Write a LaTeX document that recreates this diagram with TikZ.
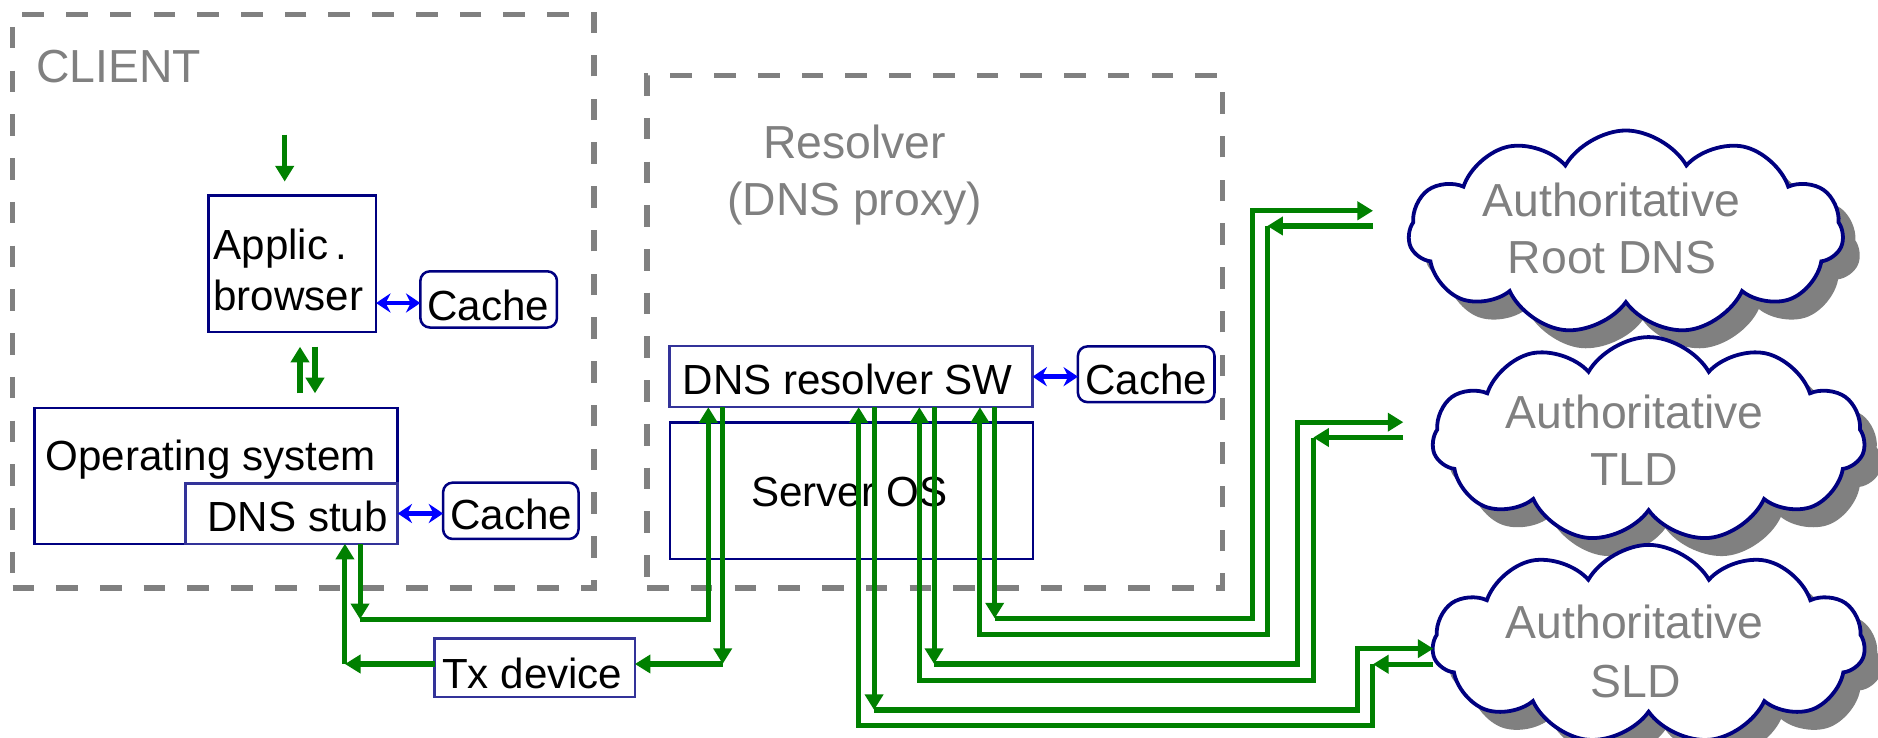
\documentclass[tikz,border=0pt]{standalone}
\usepackage{fontspec}
\setmainfont{Liberation Sans}
\usetikzlibrary{shapes.symbols,shadows,arrows.meta,calc}
\definecolor{navy}{RGB}{0,0,128}
\definecolor{slateb}{RGB}{51,51,153}
\definecolor{dgreen}{RGB}{0,128,0}
\definecolor{lgray}{RGB}{128,128,128}
\definecolor{pblue}{RGB}{0,0,255}
\begin{document}
\begin{tikzpicture}[x=0.01cm, y=-0.01cm,
  every node/.style={inner sep=0pt, outer sep=0pt},
  frame/.style={draw=lgray, line width=1.3pt, dash pattern=on 0.18cm off 0.185cm},
  nbox/.style={draw=navy, line width=0.6pt, fill=white},
  sbox/.style={draw=slateb, line width=0.6pt, fill=white},
  cbox/.style={draw=navy, line width=0.6pt, rounded corners=0.08cm, fill=white},
  btxt/.style={font=\fontsize{10}{12}\selectfont, text=black},
  gtxt/.style={font=\fontsize{11}{13}\selectfont, text=lgray},
  cloudshape/.style={cloud, cloud puffs=11, cloud puff arc=120, cloud ignores aspect,
    draw=navy, line width=0.9pt, fill=white,
    drop shadow={shadow xshift=0.14cm, shadow yshift=-0.15cm, fill=lgray, opacity=1}},
  garrow/.style={draw=dgreen, line width=1.2pt, -{Triangle[length=0.13cm,width=0.15cm]}},
  barrow/.style={draw=pblue, line width=1.1pt,
    {Stealth[length=0.12cm,width=0.16cm,inset=0.04cm]}-{Stealth[length=0.12cm,width=0.16cm,inset=0.04cm]}}
]
\path[use as bounding box, fill=white] (0,0) rectangle (1568,616);

% frames
\node[frame, minimum width=4.854cm, minimum height=4.788cm] (client) at (253.3,251.6) {};
\node[frame, minimum width=4.80cm, minimum height=4.28cm] (resolver) at (780.4,277) {};
\node[gtxt, anchor=base west] (clientlbl) at (30.4,68.6) {CLIENT};
\node[gtxt, anchor=base] (reslbl1) at (713.5,132) {Resolver};
\node[gtxt, anchor=base] (reslbl2) at (713.5,180) {(DNS proxy)};

% client boxes
\node[nbox, minimum width=1.40cm, minimum height=1.136cm] (app) at (244,220.2) {};
\node[btxt, anchor=base west] (apptxt1) at (178.3,217) {Applic\,.};
\node[btxt, anchor=base west] (apptxt2) at (178.3,259) {browser};
\node[cbox, minimum width=1.14cm, minimum height=0.469cm] (c1) at (408,250) {};
\node[btxt, anchor=base] (c1txt) at (407.5,267.4) {Cache};

\node[nbox, minimum width=3.03cm, minimum height=1.134cm] (os) at (180.5,397.3) {};
\node[btxt, anchor=base west] (ostxt) at (38,392.6) {Operating system};
\node[sbox, minimum width=1.77cm, minimum height=0.505cm] (stub) at (243.5,428.75) {};
\node[btxt, anchor=base west] (stubtxt) at (173.3,443.5) {DNS stub};
\node[cbox, minimum width=1.13cm, minimum height=0.47cm] (c2) at (426.5,426.5) {};
\node[btxt, anchor=base] (c2txt) at (426.7,442.5) {Cache};

% resolver boxes
\node[sbox, minimum width=3.03cm, minimum height=0.51cm] (sw) at (710.5,314.5) {};
\node[btxt, anchor=base west] (swtxt) at (570,329) {DNS resolver SW};
\node[nbox, minimum width=3.03cm, minimum height=1.138cm] (sos) at (711,409.9) {};
\node[btxt, anchor=base] (sostxt) at (709.3,423) {Server OS};
\node[cbox, minimum width=1.14cm, minimum height=0.465cm] (c3) at (957,312.5) {};
\node[btxt, anchor=base] (c3txt) at (957,329) {Cache};

% tx device
\node[sbox, minimum width=1.67cm, minimum height=0.49cm] (tx) at (446.5,557.5) {};
\node[btxt, anchor=base] (txtxt) at (444.4,574.6) {Tx device};

% clouds
\node[cloudshape, minimum width=3.63cm, minimum height=1.70cm] (root) at (1357.5,194) {};
\node[gtxt, anchor=base] (roottxt1) at (1345.3,180.8) {Authoritative};
\node[gtxt, anchor=base] (roottxt2) at (1346,228.5) {Root DNS};
\node[cloudshape, minimum width=3.61cm, minimum height=1.71cm] (tld) at (1376.5,367) {};
\node[gtxt, anchor=base] (tldtxt1) at (1364.8,357.6) {Authoritative};
\node[gtxt, anchor=base] (tldtxt2) at (1364.5,405.6) {TLD};
\node[cloudshape, minimum width=3.61cm, minimum height=1.66cm] (sld) at (1376.5,538) {};
\node[gtxt, anchor=base] (sldtxt1) at (1364.8,533) {Authoritative};
\node[gtxt, anchor=base] (sldtxt2) at (1365.5,582) {SLD};

% blue cache arrows
\draw[barrow] (app.east |- 0,253) -- (c1.west |- 0,253);
\draw[barrow] (stub.east) -- (stub.east -| c2.west);
\draw[barrow] (sw.east) -- (sw.east -| c3.west);

% client green arrows
\coordinate (userin) at (237.7,112.4);
\coordinate (userout) at (237.7,151.6);
\draw[garrow] (userin) -- (userout);
\coordinate (upa) at (250.5,328.4);
\coordinate (upb) at (250.5,289.5);
\draw[garrow] (upa) -- (upb);
\coordinate (dna) at (263,289.5);
\coordinate (dnb) at (263,328.4);
\draw[garrow] (dna) -- (dnb);

% stub <-> resolver
\coordinate (k1) at (300.6,517);
\draw[garrow] (300.6,0 |- stub.south) -- (k1);
\draw[garrow] (k1) -- (591.4,517) -- (591.4,0 |- sw.south);
\coordinate (k2) at (603.4,554.4);
\draw[garrow] (603.4,0 |- sw.south) -- (k2);
\draw[garrow] (k2) -- (k2 -| tx.east);
\coordinate (k3) at (288,554.4);
\draw[garrow] (tx.west |- k2) -- (k3);
\draw[garrow] (k3) -- (288,0 |- stub.south);

% root
\coordinate (rq) at (830.5,516.3);
\draw[garrow] (830.5,0 |- sw.south) -- (rq);
\coordinate (rootin) at (1146.4,176);
\draw[garrow] (rq) -- (1045.5,516.3) -- (1045.5,176) -- (rootin);
\coordinate (rootout) at (1146.4,188.7);
\coordinate (rr) at (1058.1,188.7);
\draw[garrow] (rootout) -- (rr);
\draw[garrow] (rr) -- (1058.1,529.6) -- (818.2,529.6) -- (818.2,0 |- sw.south);

% TLD
\coordinate (tq) at (779.9,554.4);
\draw[garrow] (779.9,0 |- sw.south) -- (tq);
\coordinate (tldin) at (1171.7,352.5);
\draw[garrow] (tq) -- (1083.5,554.4) -- (1083.5,352.5) -- (tldin);
\coordinate (tldout) at (1171.7,365.3);
\coordinate (tr) at (1096.5,365.3);
\draw[garrow] (tldout) -- (tr);
\draw[garrow] (tr) -- (1096.5,567.8) -- (767.6,567.8) -- (767.6,0 |- sw.south);

% SLD
\coordinate (sq) at (729.8,592.8);
\draw[garrow] (729.8,0 |- sw.south) -- (sq);
\coordinate (sldin) at (1196.8,541.6);
\draw[garrow] (sq) -- (1133.7,592.8) -- (1133.7,541.6) -- (sldin);
\coordinate (sldout) at (1196.8,554.6);
\coordinate (sr) at (1146.3,554.6);
\draw[garrow] (sldout) -- (sr);
\draw[garrow] (sr) -- (1146.3,605.9) -- (716.9,605.9) -- (716.9,0 |- sw.south);
\end{tikzpicture}
\end{document}
